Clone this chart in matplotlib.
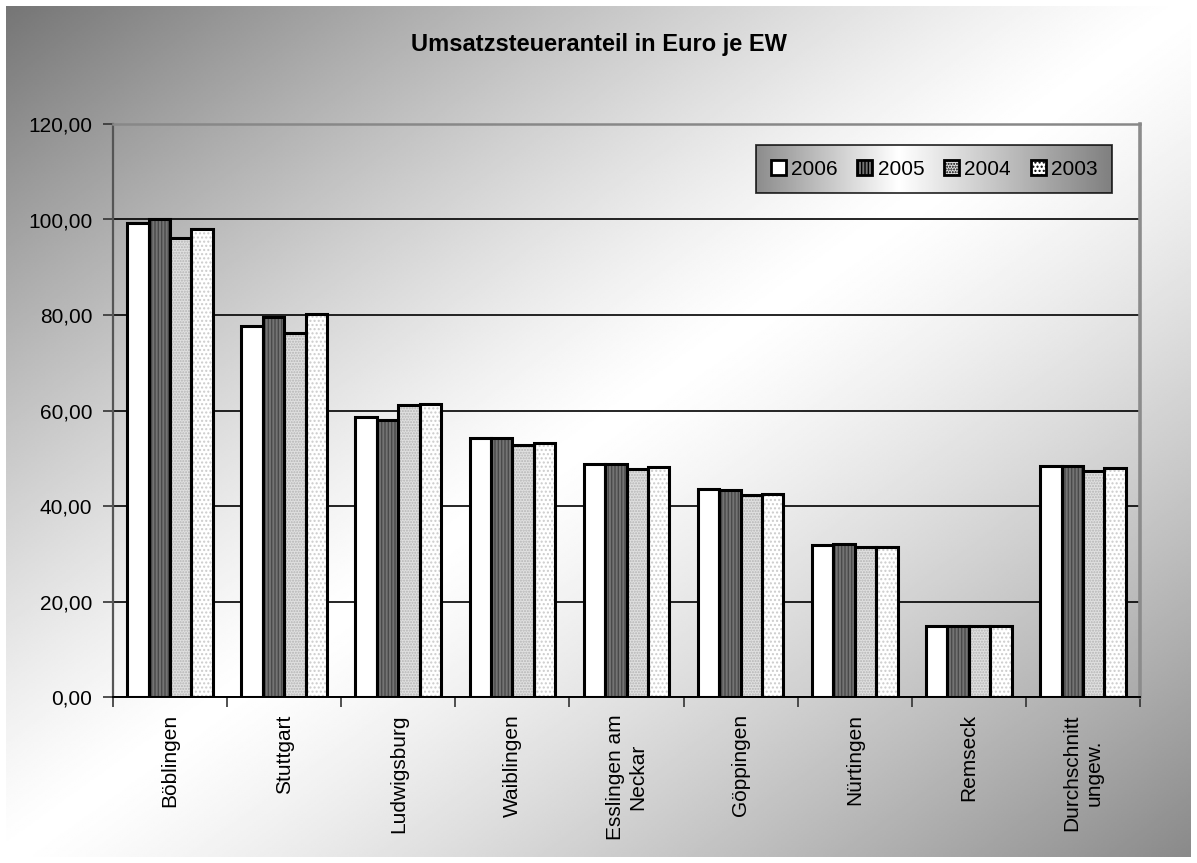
import numpy as np
import matplotlib
matplotlib.use("Agg")
import matplotlib.pyplot as plt
from matplotlib.patches import Rectangle
from matplotlib.ticker import FixedLocator, FuncFormatter

plt.rcParams['font.family'] = ['Liberation Sans', 'DejaVu Sans']

# Data
categories = ["Böblingen", "Stuttgart", "Ludwigsburg", "Waiblingen",
              "Esslingen am\nNeckar", "Göppingen", "Nürtingen", "Remseck",
              "Durchschnitt\nungew."]
years = ["2006", "2005", "2004", "2003"]
v2006 = [99.3, 77.7, 58.7, 54.3, 48.8, 43.5, 31.9, 14.8, 48.4]
v2005 = [100.0, 79.6, 58.0, 54.2, 48.8, 43.3, 32.1, 14.9, 48.4]
v2004 = [96.2, 76.2, 61.2, 52.7, 47.8, 42.4, 31.4, 14.8, 47.3]
v2003 = [98.1, 80.3, 61.4, 53.1, 48.1, 42.5, 31.5, 14.9, 48.0]
series = [v2006, v2005, v2004, v2003]
title = "Umsatzsteueranteil in Euro je EW"

# Bar styles: (face, hatch, hatch colour)
styles = [
    ("#ffffff", None, None),
    ("#747474", "|||||", "#4a4a4a"),
    ("#e0e0e0", "......", "#b4b4b4"),
    ("#ffffff", "....", "#cccccc"),
]

W, H = 1197, 863
fig = plt.figure(figsize=(W / 100, H / 100), dpi=100)
fig.patch.set_facecolor("white")

# Chart area diagonal gradient (dark corners, light anti-diagonal)
x0, y0, x1, y1 = 6, 6, 1191, 857
bg = fig.add_axes([x0 / W, 1 - y1 / H, (x1 - x0) / W, (y1 - y0) / H], zorder=0)
gx = np.linspace(0, 1, 600)
gy = np.linspace(0, 1, 450)
GX, GY = np.meshgrid(gx, gy)
t = (GX + GY) / 2
dark_tl, dark_br = 0.46, 0.54
d = np.abs(2 * t - 1) ** 1.25
val = np.where(t < 0.5, 1 - (1 - dark_tl) * d, 1 - (1 - dark_br) * d)
bg.imshow(val, cmap="gray", vmin=0, vmax=1, aspect="auto",
          extent=[0, 1, 1, 0], interpolation="bilinear")
bg.set_xlim(0, 1)
bg.set_ylim(1, 0)
bg.axis("off")

# Plot area
L, R, T, B = 113, 1140, 124, 697
ax = fig.add_axes([L / W, 1 - B / H, (R - L) / W, (B - T) / H], zorder=2)
ax.set_facecolor("none")

n = len(series)
group = 0.75
bw = group / n
x = np.arange(len(categories))
plt.rcParams['hatch.linewidth'] = 1.0
for i, (vals, (fc, hatch, hc)) in enumerate(zip(series, styles)):
    pos = x - group / 2 + bw * (i + 0.5)
    if hatch:
        ax.bar(pos, vals, width=bw, color=fc, hatch=hatch, edgecolor=hc,
               linewidth=0, zorder=3)
    else:
        ax.bar(pos, vals, width=bw, color=fc, linewidth=0, zorder=3)
    ax.bar(pos, vals, width=bw, fill=False, edgecolor="black",
           linewidth=2.2, zorder=4)

ax.set_xlim(-0.5, len(categories) - 0.5)
ax.set_ylim(0, 120)
ax.set_yticks(np.arange(0, 121, 20))
ax.yaxis.set_major_formatter(FuncFormatter(lambda v, p: f"{v:.2f}".replace(".", ",")))
ax.grid(axis="y", color="black", linewidth=1.2, zorder=1)
ax.set_axisbelow(True)

ax.set_xticks(x)
ax.set_xticklabels([])
ax.tick_params(axis="x", which="major", length=0)
ax.xaxis.set_minor_locator(FixedLocator(np.arange(-0.5, len(categories), 1)))
ax.tick_params(axis="x", which="minor", length=7, width=1.2, color="#333333",
               direction="out")
ax.tick_params(axis="y", length=7, width=1.2, color="#333333", direction="out",
               labelsize=15, pad=8)

for lab, xi in zip(categories, x):
    ax.text(xi, -3.6, lab, rotation=90, ha="center", va="top",
            multialignment="center", fontsize=15, transform=ax.transData,
            clip_on=False)

ax.spines["left"].set_color("#555555")
ax.spines["left"].set_linewidth(1.6)
ax.spines["bottom"].set_color("black")
ax.spines["bottom"].set_linewidth(1.4)
ax.spines["top"].set_color("#888888")
ax.spines["top"].set_linewidth(1.8)
ax.spines["right"].set_color("#8c8c8c")
ax.spines["right"].set_linewidth(2.6)

fig.text(0.5, 1 - 45 / H, title, ha="center", va="center",
         fontsize=17, fontweight="bold")

# Legend
handles = []
for fc, hatch, hc in styles:
    handles.append(Rectangle((0, 0), 1, 1, facecolor=fc, hatch=hatch,
                             edgecolor="black", linewidth=2.0))
leg = ax.legend(handles, years, ncol=4, loc="upper right",
                bbox_to_anchor=((1112 - L) / (R - L), 1 - (145 - T) / (B - T)),
                fontsize=15, frameon=True, fancybox=False, handlelength=0.72,
                handleheight=0.72, handletextpad=0.25, columnspacing=0.95,
                borderpad=0.7, borderaxespad=0)
leg.get_frame().set_facecolor("none")
leg.get_frame().set_edgecolor("black")
leg.get_frame().set_linewidth(1.3)

fig.canvas.draw()
bb = leg.get_frame().get_window_extent().transformed(fig.transFigure.inverted())
lg = fig.add_axes([bb.x0, bb.y0, bb.width, bb.height], zorder=1)
lx = np.linspace(0, 1, 400)
lv = np.where(lx < 0.4, 0.55 + 0.45 * (lx / 0.4), 1 - 0.5 * ((lx - 0.4) / 0.6))
lg.imshow(lv[None, :], cmap="gray", vmin=0, vmax=1, aspect="auto",
          extent=[0, 1, 0, 1], interpolation="bilinear")
lg.axis("off")

fig.savefig("out.png", dpi=100)
